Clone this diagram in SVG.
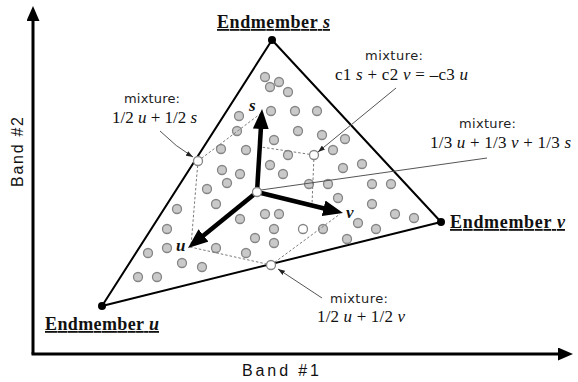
<svg xmlns="http://www.w3.org/2000/svg" width="578" height="382" viewBox="0 0 578 382">
<style>
.axis{stroke:#000;stroke-width:3;fill:none}
.tri{stroke:#000;stroke-width:2;fill:none;stroke-linejoin:round}
.pt{fill:#c9c9c9;stroke:#858585;stroke-width:1.3}
.wp{fill:#fff;stroke:#858585;stroke-width:1.3}
.vert{fill:#000}
.dash{stroke:#7a7a7a;stroke-width:1;stroke-dasharray:2.5,2;fill:none}
.thin{stroke:#555;stroke-width:1;fill:none}
.vec{stroke:#000;stroke-width:4.5;fill:none}
.em{font-family:"Liberation Serif","Times New Roman",serif;font-weight:bold;font-size:18px;text-decoration:underline;fill:#111}
.mx{font-family:"DejaVu Sans","Liberation Sans",sans-serif;font-size:13px;fill:#222}
.eq{font-family:"Liberation Serif","Times New Roman",serif;font-size:17px;fill:#111}
.ax{font-family:"Liberation Sans",Arial,sans-serif;font-size:16px;fill:#111}
.lbl{font-family:"Liberation Serif","Times New Roman",serif;font-size:17px;font-weight:bold;font-style:italic;fill:#111}
.it{font-style:italic}
</style>
<defs>
<marker id="axhead" markerUnits="userSpaceOnUse" viewBox="0 0 15 13" markerWidth="15" markerHeight="13" refX="4" refY="6.5" orient="auto">
<path d="M0,0 L15,6.5 L0,13 z" fill="#000"/>
</marker>
<marker id="vhead" markerUnits="userSpaceOnUse" viewBox="0 0 20 16" markerWidth="20" markerHeight="16" refX="6" refY="8" orient="auto">
<path d="M0,0 L20,8 L0,16 z" fill="#000"/>
</marker>
<marker id="phead" markerUnits="userSpaceOnUse" viewBox="0 0 7 5" markerWidth="7" markerHeight="5" refX="7" refY="2.5" orient="auto">
<path d="M0,0 L7,2.5 L0,5 z" fill="#222"/>
</marker>
</defs>

<g id="axes">
<line class="axis" x1="33" y1="354" x2="33" y2="17" marker-end="url(#axhead)"/>
<line class="axis" x1="31.5" y1="354" x2="562" y2="354" marker-end="url(#axhead)"/>
<text class="ax" x="242" y="376" textLength="77" lengthAdjust="spacing">Band  #1</text>
<text class="ax" transform="translate(23,187) rotate(-90)" x="0" y="0" textLength="70" lengthAdjust="spacing">Band  #2</text>
</g>

<g id="simplex">
<polygon class="tri" points="272,40 441,222 102,306"/>
</g>

<g id="points">
<circle class="pt" cx="265" cy="77" r="4.5"/>
<circle class="pt" cx="270" cy="87" r="4.5"/>
<circle class="pt" cx="279" cy="82" r="4.5"/>
<circle class="pt" cx="288" cy="92" r="4.5"/>
<circle class="pt" cx="239" cy="116" r="4.5"/>
<circle class="pt" cx="271" cy="111" r="4.5"/>
<circle class="pt" cx="295" cy="111" r="4.5"/>
<circle class="pt" cx="317" cy="111" r="4.5"/>
<circle class="pt" cx="237" cy="131" r="4.5"/>
<circle class="pt" cx="298" cy="131" r="4.5"/>
<circle class="pt" cx="322" cy="135" r="4.5"/>
<circle class="pt" cx="274" cy="140" r="4.5"/>
<circle class="pt" cx="345" cy="139" r="4.5"/>
<circle class="pt" cx="221" cy="149" r="4.5"/>
<circle class="pt" cx="246" cy="150" r="4.5"/>
<circle class="pt" cx="288" cy="155" r="4.5"/>
<circle class="pt" cx="333" cy="150" r="4.5"/>
<circle class="pt" cx="222" cy="170" r="4.5"/>
<circle class="pt" cx="240" cy="174" r="4.5"/>
<circle class="pt" cx="270" cy="165" r="4.5"/>
<circle class="pt" cx="283" cy="174" r="4.5"/>
<circle class="pt" cx="343" cy="168" r="4.5"/>
<circle class="pt" cx="362" cy="164" r="4.5"/>
<circle class="pt" cx="227" cy="183" r="4.5"/>
<circle class="pt" cx="207" cy="189" r="4.5"/>
<circle class="pt" cx="309" cy="184" r="4.5"/>
<circle class="pt" cx="328" cy="184" r="4.5"/>
<circle class="pt" cx="372" cy="184" r="4.5"/>
<circle class="pt" cx="391" cy="184" r="4.5"/>
<circle class="pt" cx="338" cy="198" r="4.5"/>
<circle class="pt" cx="372" cy="204" r="4.5"/>
<circle class="pt" cx="395" cy="214" r="4.5"/>
<circle class="pt" cx="414" cy="218" r="4.5"/>
<circle class="pt" cx="177" cy="209" r="4.5"/>
<circle class="pt" cx="216" cy="204" r="4.5"/>
<circle class="pt" cx="240" cy="219" r="4.5"/>
<circle class="pt" cx="265" cy="214" r="4.5"/>
<circle class="pt" cx="279" cy="214" r="4.5"/>
<circle class="pt" cx="274" cy="229" r="4.5"/>
<circle class="wp" cx="303" cy="229" r="4.5"/>
<circle class="pt" cx="323" cy="229" r="4.5"/>
<circle class="pt" cx="358" cy="223" r="4.5"/>
<circle class="pt" cx="376" cy="229" r="4.5"/>
<circle class="pt" cx="255" cy="238" r="4.5"/>
<circle class="pt" cx="274" cy="243" r="4.5"/>
<circle class="pt" cx="347" cy="239" r="4.5"/>
<circle class="pt" cx="167" cy="229" r="4.5"/>
<circle class="pt" cx="167" cy="248" r="4.5"/>
<circle class="pt" cx="216" cy="248" r="4.5"/>
<circle class="pt" cx="246" cy="253" r="4.5"/>
<circle class="pt" cx="148" cy="253" r="4.5"/>
<circle class="pt" cx="182" cy="263" r="4.5"/>
<circle class="pt" cx="202" cy="267" r="4.5"/>
<circle class="pt" cx="138" cy="277" r="4.5"/>
<circle class="pt" cx="157" cy="277" r="4.5"/>
</g>

<g id="connectors">
<line class="dash" x1="198" y1="161" x2="260" y2="114"/>
<line class="dash" x1="198" y1="161" x2="191" y2="246"/>
<line class="dash" x1="190" y1="247" x2="271" y2="265"/>
<line class="dash" x1="271" y1="265" x2="340" y2="214"/>
<line class="dash" x1="314" y1="155" x2="261" y2="147"/>
<line class="dash" x1="314" y1="155" x2="312" y2="205"/>
<line class="thin" x1="261" y1="190" x2="487" y2="158"/>
<path class="thin" d="M160,131 Q176,147 193,157" marker-end="url(#phead)"/>
<line class="thin" x1="396" y1="88" x2="318" y2="152" marker-end="url(#phead)"/>
<line class="thin" x1="322" y1="298" x2="278" y2="269" marker-end="url(#phead)"/>
</g>

<g id="vectors">
<line class="vec" x1="257" y1="192" x2="261.2" y2="123" marker-end="url(#vhead)"/>
<line class="vec" x1="257" y1="192" x2="198.9" y2="239.2" marker-end="url(#vhead)"/>
<line class="vec" x1="257" y1="192" x2="329.4" y2="209.7" marker-end="url(#vhead)"/>
<text class="lbl" x="249" y="111">s</text>
<text class="lbl" x="176" y="251">u</text>
<text class="lbl" x="346" y="218">v</text>
</g>

<g id="mix-points">
<circle class="wp" cx="257" cy="192" r="4.5"/>
<circle class="wp" cx="198" cy="161" r="4.5"/>
<circle class="wp" cx="314" cy="155" r="4.5"/>
<circle class="wp" cx="271" cy="265" r="4.5"/>
</g>

<g id="endmember-s">
<circle class="vert" cx="272" cy="40" r="4"/>
<text class="em" x="217" y="28" textLength="113" lengthAdjust="spacing">Endmember <tspan class="it">s</tspan></text>
</g>
<g id="endmember-u">
<circle class="vert" cx="102" cy="306" r="4"/>
<text class="em" x="45" y="330" textLength="114" lengthAdjust="spacing">Endmember <tspan class="it">u</tspan></text>
</g>
<g id="endmember-v">
<circle class="vert" cx="441" cy="222" r="4"/>
<text class="em" x="450" y="228" textLength="115" lengthAdjust="spacing">Endmember <tspan class="it">v</tspan></text>
</g>

<g id="label-us">
<text class="mx" x="124" y="103" textLength="56" lengthAdjust="spacing">mixture:</text>
<text class="eq" x="112" y="123" textLength="85" lengthAdjust="spacing">1/2 <tspan class="it">u</tspan> + 1/2 <tspan class="it">s</tspan></text>
</g>
<g id="label-c">
<text class="mx" x="365" y="60" textLength="58" lengthAdjust="spacing">mixture:</text>
<text class="eq" x="335" y="80" textLength="133" lengthAdjust="spacing">c1 <tspan class="it">s</tspan> + c2 <tspan class="it">v</tspan> = –c3 <tspan class="it">u</tspan></text>
</g>
<g id="label-third">
<text class="mx" x="459" y="128" textLength="57" lengthAdjust="spacing">mixture:</text>
<text class="eq" x="430" y="148" textLength="141" lengthAdjust="spacing">1/3 <tspan class="it">u</tspan> + 1/3 <tspan class="it">v</tspan> + 1/3 <tspan class="it">s</tspan></text>
</g>
<g id="label-uv">
<text class="mx" x="330" y="303" textLength="58" lengthAdjust="spacing">mixture:</text>
<text class="eq" x="317" y="322" textLength="88" lengthAdjust="spacing">1/2 <tspan class="it">u</tspan> + 1/2 <tspan class="it">v</tspan></text>
</g>
</svg>
